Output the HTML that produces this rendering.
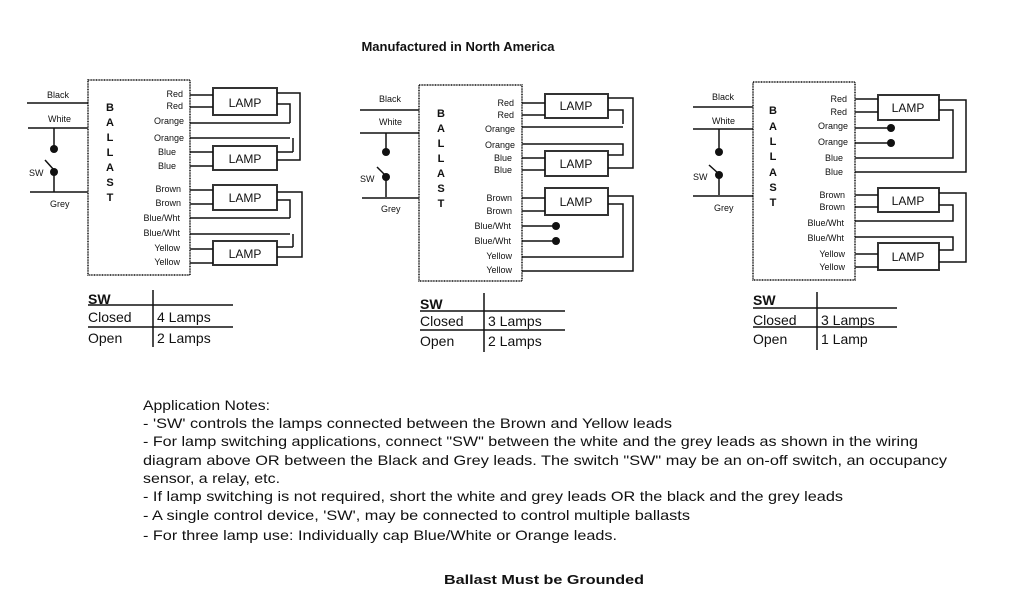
<!DOCTYPE html>
<html><head><meta charset="utf-8"><style>
html,body{margin:0;padding:0;background:#fff;width:1024px;height:600px;overflow:hidden}
svg{display:block}
text{font-family:"Liberation Sans",sans-serif;fill:#111}
.l{font-size:9px;text-anchor:end}
.s{font-size:9px}
.b{font-size:11px;font-weight:bold;text-anchor:middle}
.lm{font-size:12px;text-anchor:middle}
.t{font-size:14px}
.n{font-size:14px}
</style></head><body>
<svg width="1024" height="600" viewBox="0 0 1024 600" xmlns="http://www.w3.org/2000/svg">
<g stroke="#111" stroke-width="1.5" fill="none">
<!-- Diagram 1 -->
<rect x="88" y="80" width="102" height="195" stroke-dasharray="1,0.6"/>
<rect x="213" y="88" width="64" height="27" stroke="#333" stroke-width="2"/>
<rect x="213" y="146" width="64" height="24" stroke="#333" stroke-width="2"/>
<rect x="213" y="185" width="64" height="25" stroke="#333" stroke-width="2"/>
<rect x="213" y="241" width="64" height="24" stroke="#333" stroke-width="2"/>
<path d="M190 95H213M190 107H213M190 152H213M190 166H213M190 190H213M190 204H213M190 249H213M190 263H213"/>
<path d="M277 93H300V160H277M277 104H290V123M190 123H290M190 138H290M293 138V152M277 152H293"/>
<path d="M277 192H302V257H277M277 200H290V218M190 218H290M190 234H290M293 234V247M277 247H293"/>
<path d="M27 103H88M28 128H88M54 128V148M54 172V192M30 192H88M45 160L54 170"/>
<!-- Diagram 2 -->
<rect x="419" y="85" width="103" height="196" stroke-dasharray="1,0.6"/>
<rect x="545" y="94" width="63" height="24" stroke="#333" stroke-width="2"/>
<rect x="545" y="151" width="63" height="25" stroke="#333" stroke-width="2"/>
<rect x="545" y="188" width="63" height="27" stroke="#333" stroke-width="2"/>
<path d="M522 103H545M522 115H545M522 158H545M522 170H545M522 198H545M522 211H545M522 226H556M522 241H556"/>
<path d="M608 98H633V168H608M608 110H623V124M522 127H623M522 144H623V155H608"/>
<path d="M608 196H633V271H522M608 204H623V257H522"/>
<path d="M360 110H419M360 133H419M386 133V152M386 177V197M362 198H419M377 167L386 176"/>
<!-- Diagram 3 -->
<rect x="753" y="82" width="102" height="198" stroke-dasharray="1,0.6"/>
<rect x="878" y="95" width="61" height="25" stroke="#333" stroke-width="2"/>
<rect x="878" y="188" width="61" height="24" stroke="#333" stroke-width="2"/>
<rect x="878" y="243" width="61" height="27" stroke="#333" stroke-width="2"/>
<path d="M855 99H878M855 112H878M855 128H891M855 143H891M855 195H878M855 207H878M855 254H878M855 267H878"/>
<path d="M939 100H966V172H855M939 110H953V158H855"/>
<path d="M939 193H966V262H939M939 205H953V221H855M855 237H953V250H939"/>
<path d="M693 107H753M693 129H753M719 129V152M719 175V195M693 196H753M709 165L719 174"/>
<!-- tables -->
<path d="M88 305H233M88 327H233M153 290V347"/>
<path d="M420 311H565M420 330H565M484 293V352"/>
<path d="M753 308H897M753 327H897M817 292V350"/>
</g>
<g fill="#111">
<circle cx="54" cy="149" r="4"/><circle cx="54" cy="172" r="4"/>
<circle cx="386" cy="152" r="4"/><circle cx="386" cy="177" r="4"/>
<circle cx="556" cy="226" r="4"/><circle cx="556" cy="241" r="4"/>
<circle cx="719" cy="152" r="4"/><circle cx="719" cy="175" r="4"/>
<circle cx="891" cy="128" r="4"/><circle cx="891" cy="143" r="4"/>
</g>
<text x="458" y="51" font-size="13" font-weight="bold" text-anchor="middle">Manufactured in North America</text>
<!-- D1 labels -->
<text class="s" x="47" y="98">Black</text><text class="s" x="48" y="122">White</text>
<text class="s" x="29" y="176">SW</text><text class="s" x="50" y="207">Grey</text>
<text class="b" x="110" y="111">B</text><text class="b" x="110" y="126">A</text><text class="b" x="110" y="141">L</text><text class="b" x="110" y="156">L</text><text class="b" x="110" y="171">A</text><text class="b" x="110" y="186">S</text><text class="b" x="110" y="201">T</text>
<text class="l" x="183" y="97">Red</text><text class="l" x="183" y="109">Red</text><text class="l" x="184" y="124">Orange</text><text class="l" x="184" y="141">Orange</text><text class="l" x="176" y="155">Blue</text><text class="l" x="176" y="169">Blue</text><text class="l" x="181" y="192">Brown</text><text class="l" x="181" y="206">Brown</text><text class="l" x="180" y="221">Blue/Wht</text><text class="l" x="180" y="236">Blue/Wht</text><text class="l" x="180" y="251">Yellow</text><text class="l" x="180" y="265">Yellow</text>
<text class="lm" x="245" y="107">LAMP</text><text class="lm" x="245" y="163">LAMP</text><text class="lm" x="245" y="202">LAMP</text><text class="lm" x="245" y="258">LAMP</text>
<text class="t" x="88" y="304" font-weight="bold">SW</text><text class="t" x="88" y="322">Closed</text><text class="t" x="157" y="322">4 Lamps</text><text class="t" x="88" y="343">Open</text><text class="t" x="157" y="343">2 Lamps</text>
<!-- D2 labels -->
<text class="s" x="379" y="102">Black</text><text class="s" x="379" y="125">White</text>
<text class="s" x="360" y="182">SW</text><text class="s" x="381" y="212">Grey</text>
<text class="b" x="441" y="117">B</text><text class="b" x="441" y="132">A</text><text class="b" x="441" y="147">L</text><text class="b" x="441" y="162">L</text><text class="b" x="441" y="177">A</text><text class="b" x="441" y="192">S</text><text class="b" x="441" y="207">T</text>
<text class="l" x="514" y="106">Red</text><text class="l" x="514" y="118">Red</text><text class="l" x="515" y="132">Orange</text><text class="l" x="515" y="148">Orange</text><text class="l" x="512" y="161">Blue</text><text class="l" x="512" y="173">Blue</text><text class="l" x="512" y="201">Brown</text><text class="l" x="512" y="214">Brown</text><text class="l" x="511" y="229">Blue/Wht</text><text class="l" x="511" y="244">Blue/Wht</text><text class="l" x="512" y="259">Yellow</text><text class="l" x="512" y="273">Yellow</text>
<text class="lm" x="576" y="110">LAMP</text><text class="lm" x="576" y="168">LAMP</text><text class="lm" x="576" y="206">LAMP</text>
<text class="t" x="420" y="309" font-weight="bold">SW</text><text class="t" x="420" y="326">Closed</text><text class="t" x="488" y="326">3 Lamps</text><text class="t" x="420" y="346">Open</text><text class="t" x="488" y="346">2 Lamps</text>
<!-- D3 labels -->
<text class="s" x="712" y="100">Black</text><text class="s" x="712" y="124">White</text>
<text class="s" x="693" y="180">SW</text><text class="s" x="714" y="211">Grey</text>
<text class="b" x="773" y="114">B</text><text class="b" x="773" y="130">A</text><text class="b" x="773" y="145">L</text><text class="b" x="773" y="160">L</text><text class="b" x="773" y="176">A</text><text class="b" x="773" y="191">S</text><text class="b" x="773" y="206">T</text>
<text class="l" x="847" y="102">Red</text><text class="l" x="847" y="115">Red</text><text class="l" x="848" y="129">Orange</text><text class="l" x="848" y="145">Orange</text><text class="l" x="843" y="161">Blue</text><text class="l" x="843" y="175">Blue</text><text class="l" x="845" y="198">Brown</text><text class="l" x="845" y="210">Brown</text><text class="l" x="844" y="226">Blue/Wht</text><text class="l" x="844" y="241">Blue/Wht</text><text class="l" x="845" y="257">Yellow</text><text class="l" x="845" y="270">Yellow</text>
<text class="lm" x="908" y="112">LAMP</text><text class="lm" x="908" y="205">LAMP</text><text class="lm" x="908" y="261">LAMP</text>
<text class="t" x="753" y="305" font-weight="bold">SW</text><text class="t" x="753" y="325">Closed</text><text class="t" x="821" y="325">3 Lamps</text><text class="t" x="753" y="344">Open</text><text class="t" x="821" y="344">1 Lamp</text>
<!-- notes -->
<text class="n" x="143" y="410" textLength="127" lengthAdjust="spacingAndGlyphs">Application Notes:</text>
<text class="n" x="143" y="428" textLength="529" lengthAdjust="spacingAndGlyphs"> - 'SW' controls the lamps connected between the Brown and Yellow leads</text>
<text class="n" x="143" y="446" textLength="775" lengthAdjust="spacingAndGlyphs"> - For lamp switching applications, connect "SW" between the white and the grey leads as shown in the wiring</text>
<text class="n" x="143" y="465" textLength="804" lengthAdjust="spacingAndGlyphs">diagram above OR between the Black and Grey leads.  The switch "SW" may be an on-off switch, an occupancy</text>
<text class="n" x="143" y="483" textLength="137" lengthAdjust="spacingAndGlyphs">sensor, a relay, etc.</text>
<text class="n" x="143" y="501" textLength="700" lengthAdjust="spacingAndGlyphs"> - If lamp switching is not required, short the white and grey leads OR the black and the grey leads</text>
<text class="n" x="143" y="520" textLength="547" lengthAdjust="spacingAndGlyphs"> - A single control device, 'SW', may be connected to control multiple ballasts</text>
<text class="n" x="143" y="540" textLength="474" lengthAdjust="spacingAndGlyphs"> - For three lamp use: Individually cap Blue/White or Orange leads.</text>
<text x="444" y="584" font-size="13" font-weight="bold" textLength="200" lengthAdjust="spacingAndGlyphs">Ballast Must be Grounded</text>
</svg>
</body></html>
